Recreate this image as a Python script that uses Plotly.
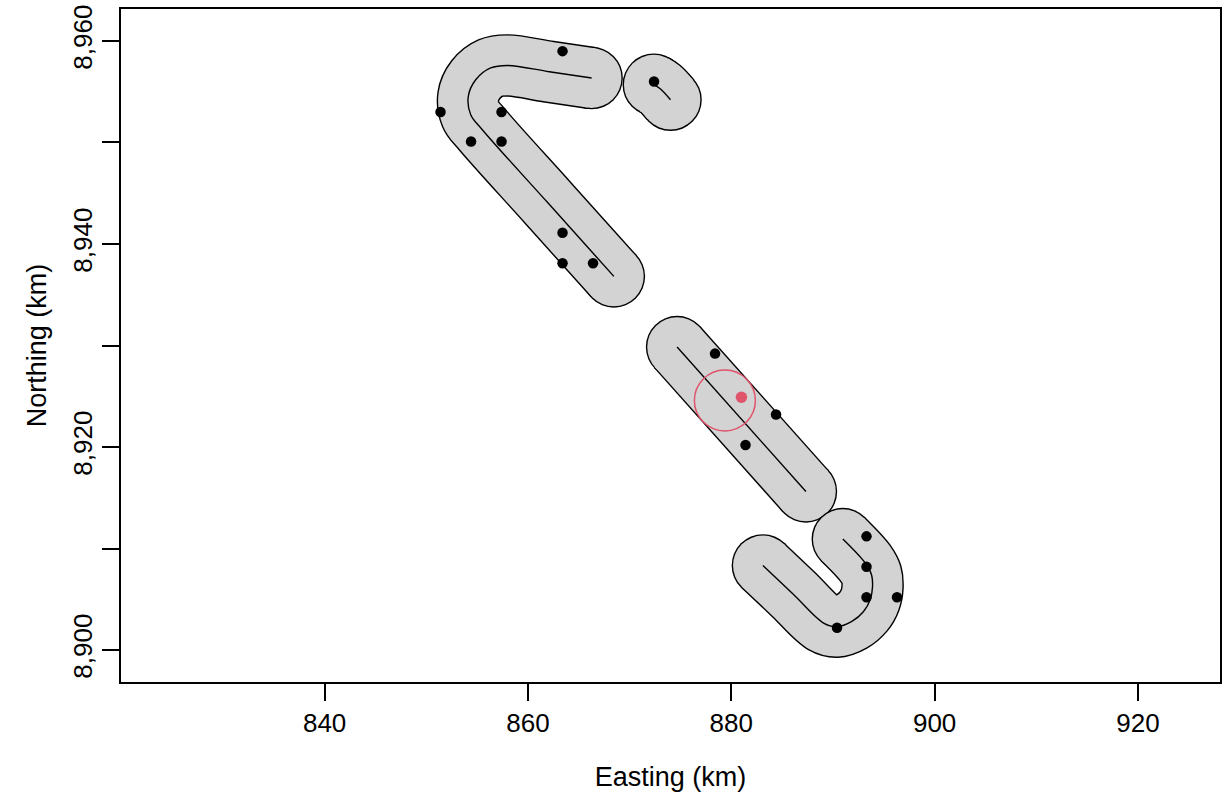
import plotly.graph_objects as go

# ---- data (km) ----
# search-path centrelines
path_a_x = [866.26, 862.10, 857.97, 856.33, 854.86, 854.13, 854.37, 855.51, 861.98, 868.45]
path_a_y = [8956.35, 8956.97, 8957.59, 8957.34, 8956.18, 8954.54, 8952.74, 8951.26, 8944.03, 8936.81]
path_b_x = [872.38, 873.04, 874.02]
path_b_y = [8955.69, 8955.27, 8954.21]
path_c_x = [874.67, 887.34]
path_c_y = [8929.85, 8915.62]
path_d_x = [883.11, 886.10, 889.08, 890.38, 891.86, 893.01, 893.66, 893.89, 893.79, 893.17, 890.97]
path_d_y = [8908.33, 8905.50, 8902.66, 8902.30, 8902.82, 8903.80, 8904.95, 8906.20, 8907.42, 8908.57, 8910.93]
buffer_km = 3.0

# detections
det_x = [863.4, 851.4, 857.4, 854.4, 857.4, 863.4, 863.4, 866.4, 872.4,
         878.4, 884.4, 881.4, 893.3, 893.3, 893.3, 896.3, 890.4]
det_y = [8959.0, 8953.0, 8953.0, 8950.1, 8950.1, 8941.1, 8938.1, 8938.1, 8956.0,
         8929.2, 8923.2, 8920.2, 8911.2, 8908.2, 8905.2, 8905.2, 8902.2]

# highlighted location and its circle
focus_x = [881.0]
focus_y = [8924.9]
ring_cx, ring_cy, ring_r = 879.37, 8924.58, 3.0

# axes
x_range = [819.97, 928.07]
y_range = [8896.85, 8963.15]
x_ticks = [840, 860, 880, 900, 920]
y_ticks = [8900, 8910, 8920, 8930, 8940, 8950, 8960]
y_ticktext = ["8,900", "", "8,920", "", "8,940", "", "8,960"]

W, H = 1223, 798
M = dict(l=121, r=1, t=9, b=116)
px_per_km = (W - M["l"] - M["r"]) / (x_range[1] - x_range[0])

GREY = "#d3d3d3"
RED = "#DF536B"
FONT = "Liberation Sans, Arial, Helvetica, sans-serif"

outer_w = 2 * buffer_km * px_per_km + 1.4
inner_w = 2 * buffer_km * px_per_km - 1.4

paths = [(path_a_x, path_a_y), (path_b_x, path_b_y),
         (path_c_x, path_c_y), (path_d_x, path_d_y)]

fig = go.Figure()

for px, py in paths:
    ends_x = [px[0], px[-1]]
    ends_y = [py[0], py[-1]]
    # outline of the buffer
    fig.add_trace(go.Scatter(x=px, y=py, mode="lines", line=dict(color="black", width=outer_w, shape="spline"),
                             hoverinfo="skip", showlegend=False))
    fig.add_trace(go.Scatter(x=ends_x, y=ends_y, mode="markers",
                             marker=dict(color="black", size=outer_w, line=dict(width=0)),
                             hoverinfo="skip", showlegend=False))
    # buffer fill
    fig.add_trace(go.Scatter(x=px, y=py, mode="lines", line=dict(color=GREY, width=inner_w, shape="spline"),
                             hoverinfo="skip", showlegend=False))
    fig.add_trace(go.Scatter(x=ends_x, y=ends_y, mode="markers",
                             marker=dict(color=GREY, size=inner_w, line=dict(width=0)),
                             hoverinfo="skip", showlegend=False))

# centrelines on top
for px, py in paths:
    fig.add_trace(go.Scatter(x=px, y=py, mode="lines", line=dict(color="black", width=1.4, shape="spline"),
                             showlegend=False))

fig.add_trace(go.Scatter(x=det_x, y=det_y, mode="markers",
                         marker=dict(color="black", size=10.5, line=dict(width=0)), showlegend=False))
fig.add_trace(go.Scatter(x=focus_x, y=focus_y, mode="markers",
                         marker=dict(color=RED, size=11.5, line=dict(width=0)), showlegend=False))

fig.add_shape(type="circle", xref="x", yref="y",
              x0=ring_cx - ring_r, x1=ring_cx + ring_r, y0=ring_cy - ring_r, y1=ring_cy + ring_r,
              line=dict(color=RED, width=1.5), layer="above")

axis_common = dict(showgrid=False, zeroline=False, showline=True, linecolor="black", linewidth=1.5,
                   mirror=True, ticks="outside", ticklen=17, tickwidth=1.5, tickcolor="black",
                   tickfont=dict(family=FONT, size=26, color="black"))

fig.update_layout(
    width=W, height=H, autosize=False, margin=M,
    paper_bgcolor="white", plot_bgcolor="white",
    xaxis=dict(range=x_range, tickvals=x_ticks, ticktext=[str(v) for v in x_ticks],
               title=dict(text="Easting (km)", font=dict(family=FONT, size=27, color="black"), standoff=30),
               **axis_common),
    yaxis=dict(range=y_range, tickvals=y_ticks, ticktext=y_ticktext, tickangle=-90,
               title=dict(text="Northing (km)", font=dict(family=FONT, size=27, color="black"), standoff=13),
               **axis_common),
)

fig.write_html("out.html")
